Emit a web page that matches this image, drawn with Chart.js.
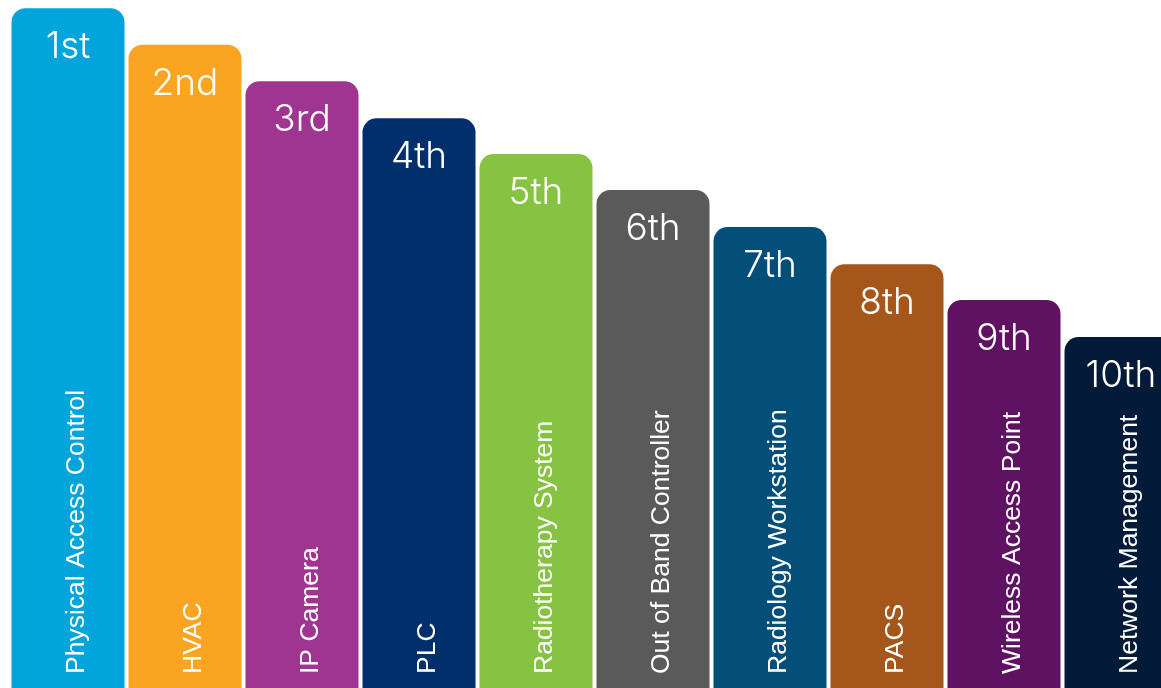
<!DOCTYPE html>
<html>
<head>
<meta charset="utf-8">
<script src="https://cdn.jsdelivr.net/npm/chart.js@4/dist/chart.umd.min.js"></script>
<style>
  html, body { margin: 0; padding: 0; background: #ffffff; }
  #wrap { width: 1161px; height: 688px; overflow: hidden; position: relative; }
  canvas { display: block; }
</style>
</head>
<body>
<div id="wrap"><canvas id="c" width="1180" height="688"></canvas></div>
<script>
const categories = ['Physical Access Control', 'HVAC', 'IP Camera', 'PLC', 'Radiotherapy System',
  'Out of Band Controller', 'Radiology Workstation', 'PACS', 'Wireless Access Point', 'Network Management'];
const rankLabels = ['1st', '2nd', '3rd', '4th', '5th', '6th', '7th', '8th', '9th', '10th'];
const riskScores = [98.8, 93.5, 88.2, 82.8, 77.6, 72.4, 67.0, 61.6, 56.4, 51.0];
const barColors = ['#02A4DC', '#F9A521', '#A03491', '#002F6C', '#86C342',
  '#5A5A5A', '#044F7A', '#A5561A', '#5F1261', '#031A38'];

const labelPlugin = {
  id: 'barLabels',
  afterDatasetsDraw(chart) {
    const ctx = chart.ctx;
    const meta = chart.getDatasetMeta(0);
    ctx.save();
    ctx.fillStyle = '#ffffff';
    meta.data.forEach((bar, i) => {
      ctx.font = '300 37px Inter, "Open Sans", sans-serif';
      ctx.textAlign = 'center';
      ctx.textBaseline = 'alphabetic';
      ctx.fillText(rankLabels[i], bar.x, bar.y + 50);
      ctx.save();
      ctx.translate(bar.x + 15.5, 674);
      ctx.rotate(-Math.PI / 2);
      ctx.font = '400 26.5px "Liberation Sans", Arial, sans-serif';
      ctx.textAlign = 'left';
      ctx.textBaseline = 'alphabetic';
      ctx.fillText(categories[i], 0, 0);
      ctx.restore();
    });
    ctx.restore();
  }
};

new Chart(document.getElementById('c'), {
  type: 'bar',
  data: {
    labels: categories,
    datasets: [{
      data: riskScores,
      backgroundColor: barColors,
      borderWidth: 0,
      borderRadius: { topLeft: 14, topRight: 14, bottomLeft: 0, bottomRight: 0 },
      borderSkipped: 'bottom',
      barPercentage: 113 / 117,
      categoryPercentage: 1.0
    }]
  },
  options: {
    responsive: false,
    animation: false,
    devicePixelRatio: 1,
    layout: { padding: { left: 9.5, right: 0.5, top: 0, bottom: 0 } },
    plugins: { legend: { display: false }, tooltip: { enabled: false } },
    scales: {
      x: { display: false },
      y: { display: false, min: 0, max: 100 }
    }
  },
  plugins: [labelPlugin]
});
</script>
</body>
</html>
